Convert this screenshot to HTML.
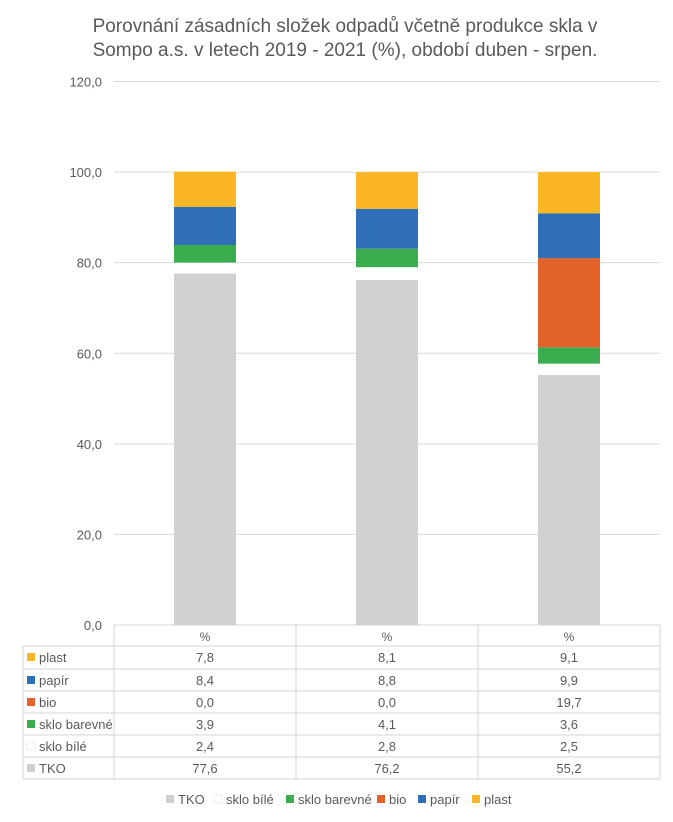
<!DOCTYPE html>
<html><head><meta charset="utf-8"><style>
body{margin:0;background:#fff;font-family:"Liberation Sans",sans-serif;}
svg text{font-family:"Liberation Sans",sans-serif;fill:#595959;}
</style></head><body>
<svg width="673" height="817" viewBox="0 0 673 817">
<text x="345" y="32" text-anchor="middle" font-size="19">Porovnání zásadních složek odpadů včetně produkce skla v</text>
<text x="345" y="56" text-anchor="middle" font-size="19">Sompo a.s. v letech 2019 - 2021 (%), období duben - srpen.</text>
<g id="grid"></g><g id="bars"></g><g id="table"></g><g id="legend"></g>
</svg>
<script>
const categories=["%","%","%"];
const seriesNames=["TKO","sklo bílé","sklo barevné","bio","papír","plast"];
const seriesColors=["#d0d0d2","#ffffff","#3cad4f","#e2622a","#2f6fb8","#fbb626"];
const TKO=[77.6,76.2,55.2];
const skloBile=[2.4,2.8,2.5];
const skloBarevne=[3.9,4.1,3.6];
const bio=[0.0,0.0,19.7];
const papir=[8.4,8.8,9.9];
const plast=[7.8,8.1,9.1];
const yTicks=[0,20,40,60,80,100,120];
const series=[TKO,skloBile,skloBarevne,bio,papir,plast];
const NS="http://www.w3.org/2000/svg";
const x0=114,x1=660,yBase=625,yTop=81.5,yMax=120;
const y=v=>yBase-(v/yMax)*(yBase-yTop);
const colW=(x1-x0)/categories.length;
const fmt=v=>v.toFixed(1).replace('.',',');
function mk(tag,a,p){const e=document.createElementNS(NS,tag);for(const k in a)e.setAttribute(k,a[k]);p.appendChild(e);return e;}
const grid=document.getElementById('grid');
yTicks.forEach(t=>{
 const l=mk('line',{x1:x0,x2:x1,y1:y(t),y2:y(t),stroke:'#d9d9d9','stroke-width':1},grid);
 
 
 const tx=mk('text',{x:102,y:y(t)+5,'text-anchor':'end','font-size':13},grid);
 tx.textContent=fmt(t);
 
 
});
const bars=document.getElementById('bars');
categories.forEach((c,i)=>{
 let acc=0;const cx=x0+colW*(i+0.5);
 series.forEach((s,j)=>{
  const v=s[i];
  const r=mk('rect',{x:cx-31,y:y(acc+v),width:62,height:Math.max(0,y(acc)-y(acc+v)),fill:seriesColors[j]},bars);
  
  
  acc+=v;
 });
});
const tb=document.getElementById('table');
const rowsY=[625,646,669,691,713,735,757,779];
const L='#d4d4d4';
mk('line',{x1:x0,x2:x1,y1:625,y2:625,stroke:L},tb);
for(let k=1;k<rowsY.length;k++) mk('line',{x1:23,x2:x1,y1:rowsY[k],y2:rowsY[k],stroke:L},tb);
mk('line',{x1:23,x2:23,y1:646,y2:779,stroke:L},tb);
for(let c=0;c<=categories.length;c++) mk('line',{x1:x0+colW*c,x2:x0+colW*c,y1:625,y2:779,stroke:L},tb);
categories.forEach((c,i)=>{
 const t=mk('text',{x:x0+colW*(i+0.5),y:641,'text-anchor':'middle','font-size':12},tb);
 t.textContent=c;
 
 
});
for(let r=0;r<6;r++){
 const j=5-r;const yy=rowsY[r+1];
 const sw=mk('rect',{x:27,y:yy+7,width:8,height:8,fill:seriesColors[j],stroke:j==1?'#eee':'none'},tb);
 
 
 const lt=mk('text',{x:39,y:yy+16,'font-size':13},tb);
 lt.textContent=seriesNames[j];
 
 
 categories.forEach((c,i)=>{
  const t=mk('text',{x:x0+colW*(i+0.5),y:yy+16,'text-anchor':'middle','font-size':13},tb);
  t.textContent=fmt(series[j][i]);
  
  
 });
}
const lg=document.getElementById('legend');
const lx=[166,214,286,377,418,472];
seriesNames.forEach((n,j)=>{
 const sw=mk('rect',{x:lx[j],y:795,width:8,height:8,fill:seriesColors[j],stroke:j==1?'#eee':'none'},lg);
 
 
 const t=mk('text',{x:lx[j]+12,y:804,'font-size':13},lg);
 t.textContent=n;
 
 
});
</script>
</body></html>
